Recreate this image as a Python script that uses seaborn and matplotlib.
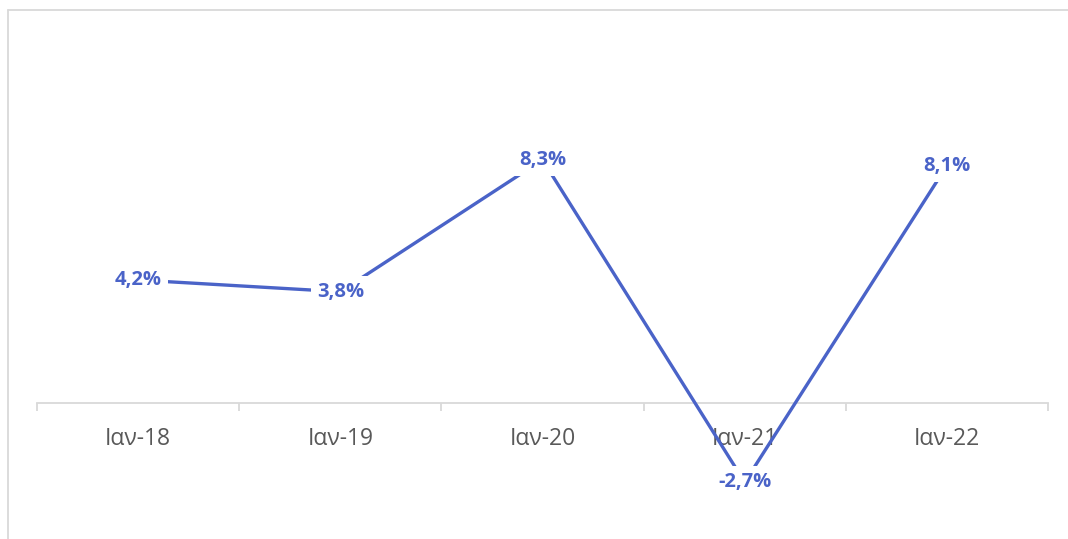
import numpy as np
import pandas as pd
import matplotlib
matplotlib.use("Agg")
import matplotlib.pyplot as plt
from matplotlib.lines import Line2D
import seaborn as sns

# data
months = ["Ιαν-18", "Ιαν-19", "Ιαν-20", "Ιαν-21", "Ιαν-22"]
growth = [4.2, 3.8, 8.3, -2.7, 8.1]

df = pd.DataFrame({"pos": np.arange(len(months)), "growth": growth})

sns.set_theme(style="white")
plt.rcParams["font.family"] = ["Open Sans", "DejaVu Sans"]

blue = "#4A63C8"
grey = "#D9D9D9"

fig = plt.figure(figsize=(10.68, 5.39), dpi=100)
ax = fig.add_axes([37 / 1068, 19 / 539, (1048 - 37) / 1068, 490 / 539])

sns.lineplot(data=df, x="pos", y="growth", color=blue, linewidth=2.4, ax=ax, zorder=3)

# data labels sit on the points, white box hides the line under them
for x, v in zip(df["pos"], df["growth"]):
    txt = f"{v:.1f}%".replace(".", ",")
    ax.text(x, v, txt, ha="center", va="center", color=blue, fontsize=14.5,
            fontweight="bold", zorder=4,
            bbox=dict(boxstyle="square,pad=0.3", fc="white", ec="none"))

ax.set_xlim(-0.5, len(months) - 0.5)
ax.set_ylim(-3.99, 12.73)

for s in ["top", "right", "left"]:
    ax.spines[s].set_visible(False)
ax.spines["bottom"].set_position(("data", 0))
ax.spines["bottom"].set_color(grey)
ax.spines["bottom"].set_linewidth(1.3)

ax.set_xticks(df["pos"])
ax.set_xticklabels(months)
ax.set_xticks(np.arange(len(months) + 1) - 0.5, minor=True)
ax.tick_params(axis="x", which="major", length=0, pad=17.5, labelsize=16.5, labelcolor="#595959")
ax.tick_params(axis="x", which="minor", bottom=True, direction="out", length=6, width=1.3, color=grey)
ax.set_yticks([])
ax.set_xlabel("")
ax.set_ylabel("")

# chart border (only left and top edges fall inside the picture)
fig.add_artist(Line2D([8 / 1068, 8 / 1068], [0, 1 - 10 / 539], color=grey, lw=1.3))
fig.add_artist(Line2D([8 / 1068, 1], [1 - 10 / 539, 1 - 10 / 539], color=grey, lw=1.3))

fig.savefig("out.png", dpi=100)
